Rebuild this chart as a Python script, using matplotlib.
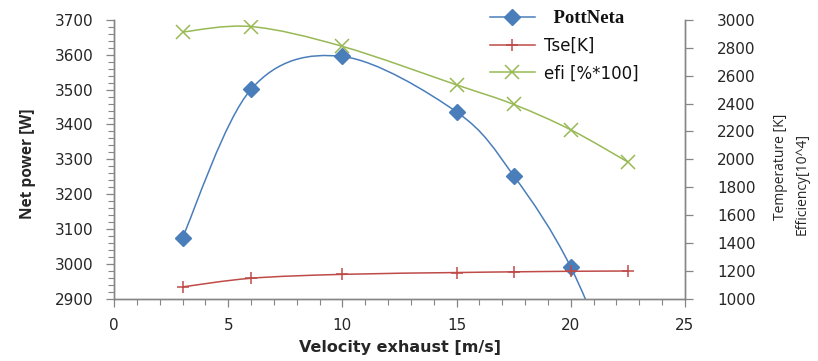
import numpy as np
import matplotlib
matplotlib.use("Agg")
import matplotlib.pyplot as plt
from matplotlib.path import Path
from matplotlib.patches import PathPatch
from matplotlib.lines import Line2D
from matplotlib.ticker import MultipleLocator
from matplotlib.font_manager import FontProperties

# Data
velocity = [3, 6, 10, 15, 17.5, 20, 22.5]
pott_neta = [3076, 3501, 3595, 3436, 3253, 2991, 2600]
tse_k = [1086, 1148, 1176, 1189, 1194, 1198, 1200]
efi = [2913, 2952, 2810, 2534, 2394, 2212, 1981]

BLUE = "#4A7EBB"
RED = "#BE4B48"
GREEN = "#98B954"
SPINE = "#868686"
TXT = "#262626"

W, H = 818, 361


def smooth_path(xs, ys):
    """Cubic Bezier path through the points (Excel-style smoothing)."""
    pts = np.column_stack([xs, ys]).astype(float)
    n = len(pts)
    verts = [pts[0]]
    codes = [Path.MOVETO]
    for i in range(n - 1):
        p0 = pts[i - 1] if i > 0 else pts[i]
        p1 = pts[i]
        p2 = pts[i + 1]
        p3 = pts[i + 2] if i + 2 < n else pts[i + 1]
        c1 = p1 + (p2 - p0) / 6.0
        c2 = p2 - (p3 - p1) / 6.0
        verts += [c1, c2, p2]
        codes += [Path.CURVE4] * 3
    return Path(verts, codes)


fig = plt.figure(figsize=(W / 100, H / 100), dpi=100)
ax = fig.add_axes([0.1394, 0.172, 0.6980, 0.773])
ax2 = ax.twinx()

font = "DejaVu Sans"

# Net power on the left axis
ax.add_patch(PathPatch(smooth_path(velocity, pott_neta), fill=False,
                       edgecolor=BLUE, lw=1.1, zorder=2))
ax.plot(velocity, pott_neta, ls="none", marker="D", ms=8.5, color=BLUE,
        mec=BLUE, zorder=3)

# Temperature and efficiency on the right axis
ax2.add_patch(PathPatch(smooth_path(velocity, tse_k), fill=False,
                        edgecolor=RED, lw=1.1, zorder=2))
ax2.plot(velocity, tse_k, ls="none", marker="+", ms=9, mew=1.1,
         color=RED, zorder=3)
ax2.add_patch(PathPatch(smooth_path(velocity, efi), fill=False,
                        edgecolor=GREEN, lw=1.1, zorder=2))
ax2.plot(velocity, efi, ls="none", marker="x", ms=9.5, mew=1.1,
         color=GREEN, zorder=3)

ax.set_xlim(0, 25)
ax.set_ylim(2900, 3700)
ax2.set_ylim(1000, 3000)
ax.xaxis.set_major_locator(MultipleLocator(5))
ax.xaxis.set_minor_locator(MultipleLocator(1))
ax.yaxis.set_major_locator(MultipleLocator(100))
ax.yaxis.set_minor_locator(MultipleLocator(20))
ax2.yaxis.set_major_locator(MultipleLocator(200))

for a in (ax, ax2):
    a.patch.set_visible(False)
    a.spines["top"].set_visible(False)
    for s in ("left", "right", "bottom"):
        a.spines[s].set_color(SPINE)
        a.spines[s].set_linewidth(1.0)

ax.tick_params(axis="both", which="major", direction="out", length=6,
               width=0.9, color=SPINE, labelcolor=TXT, labelsize=11,
               pad=9)
ax.tick_params(axis="both", which="minor", direction="out", length=4,
               width=0.8, color=SPINE)
ax.tick_params(axis="x", which="major", pad=8)
ax2.tick_params(axis="y", which="major", direction="out", length=6,
                width=0.9, color=SPINE, labelcolor=TXT, labelsize=11,
                pad=17)
for lbl in ax.get_xticklabels() + ax.get_yticklabels() + ax2.get_yticklabels():
    lbl.set_fontfamily(font)

ax.set_xlabel("Velocity exhaust [m/s]", fontsize=11.5, fontweight="bold",
              fontfamily=font, color=TXT, labelpad=5)

# Axis titles for the two vertical axes
fig.text(28 / W, 1 - 164 / H, "Net power [W]", rotation=90, ha="center",
         va="center", fontsize=11.2, fontweight="bold",
         fontfamily="Open Sans", color=TXT)
fig.text(780 / W, 1 - 167 / H, "Temperature [K]", rotation=90,
         ha="center", va="center", fontsize=10, fontfamily="Open Sans",
         color=TXT)
fig.text(802 / W, 1 - 184 / H, "Efficiency[10^4]", rotation=90,
         ha="center", va="center", fontsize=10, fontfamily="Open Sans",
         color=TXT)

handles = [
    Line2D([], [], color=BLUE, lw=1.1, marker="D", ms=8.5),
    Line2D([], [], color=RED, lw=1.1, marker="+", ms=9, mew=1.1),
    Line2D([], [], color=GREEN, lw=1.1, marker="x", ms=9.5, mew=1.1),
]
labels = ["  PottNeta", "Tse[K]", "efi [%*100]"]
leg = fig.legend(handles, labels, loc="upper left",
                 bbox_to_anchor=(0.5905, 0.99), frameon=False,
                 prop=FontProperties(family=font, size=12),
                 handlelength=2.7, handletextpad=0.55, labelspacing=0.57,
                 borderaxespad=0.0)
leg.get_texts()[0].set_fontproperties(
    FontProperties(family="Liberation Serif", weight="bold", size=13.5))
for t in leg.get_texts():
    t.set_color("#111111")

fig.savefig("out.png", dpi=100)
